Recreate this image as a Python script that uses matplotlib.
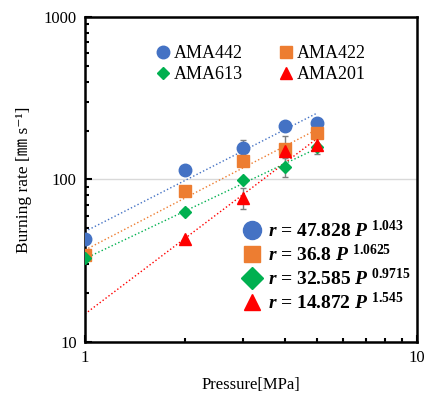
import numpy as np
import matplotlib
matplotlib.use('Agg')
import matplotlib.pyplot as plt
from matplotlib.ticker import FuncFormatter, LogLocator, NullFormatter

plt.rcParams['font.family'] = ['Liberation Serif', 'DejaVu Serif', 'Noto Sans CJK JP']
plt.rcParams['mathtext.fontset'] = 'custom'
plt.rcParams['mathtext.rm'] = 'Liberation Serif:bold'
plt.rcParams['mathtext.it'] = 'Liberation Serif:italic:bold'

# data
pressure = [1, 2, 3, 4, 5]
names = ['AMA442', 'AMA422', 'AMA613', 'AMA201']
rates = {
    'AMA442': [43, 115, 156, 213, 224],
    'AMA422': [34.3, 85, 129, 154, 192],
    'AMA613': [33, 63, 99, 120, 159],
    'AMA201': [np.nan, 43, 77, 150, 162],
}
errors = {
    'AMA442': [0, 0, 20, 0, 0],
    'AMA422': [0, 0, 0, 30, 0],
    'AMA613': [0, 0, 0, 16, 0],
    'AMA201': [0, 0, 11, 0, 18],
}
fit_a = [47.828, 36.8, 32.585, 14.872]
fit_b = [1.043, 1.0625, 0.9715, 1.545]
fit_labels = ['47.828', '36.8', '32.585', '14.872']
exp_labels = ['1.043', '1.0625', '0.9715', '1.545']

colors = ['#4472C4', '#ED7D31', '#00B050', '#FF0000']
markers = ['o', 's', 'D', '^']
sizes = [9, 8.5, 6.5, 9]

fig = plt.figure(figsize=(4.27, 3.94), dpi=100)
ax = fig.add_axes([0.199, 0.132, 0.778, 0.825])

handles = []
for i, nm in enumerate(names):
    p = np.array(pressure, dtype=float)
    r = np.array(rates[nm], dtype=float)
    e = np.array(errors[nm], dtype=float)
    m = e > 0
    ax.errorbar(p[m], r[m], yerr=e[m], fmt='none', ecolor='#7f7f7f',
                elinewidth=1, capsize=2, zorder=2)
    h, = ax.plot(p, r, linestyle='none', marker=markers[i], color=colors[i],
                 markersize=sizes[i], zorder=3)
    handles.append(h)
    pp = np.array([pressure[0], pressure[-1]], dtype=float)
    ax.plot(pp, fit_a[i] * pp ** fit_b[i], linestyle=':', color=colors[i],
            linewidth=1, zorder=2)

ax.set_xscale('log')
ax.set_yscale('log')
ax.set_xlim(1, 10)
ax.set_ylim(10, 1000)

fmt = FuncFormatter(lambda v, pos: '%g' % v)
ax.xaxis.set_major_formatter(fmt)
ax.yaxis.set_major_formatter(fmt)
ax.xaxis.set_minor_formatter(NullFormatter())
ax.yaxis.set_minor_formatter(NullFormatter())
ax.yaxis.set_minor_locator(LogLocator(base=10, subs=np.arange(2, 10)))
ax.xaxis.set_minor_locator(LogLocator(base=10, subs=np.arange(2, 10)))

ax.tick_params(which='both', direction='in', labelsize=12, width=1.5, colors='black')
ax.tick_params(which='major', length=5, pad=6)
ax.tick_params(which='minor', length=3)
for s in ax.spines.values():
    s.set_linewidth(1.8)

ax.yaxis.grid(True, which='major', color='#d9d9d9', linewidth=1)
ax.set_axisbelow(True)

ax.set_xlabel('Pressure[MPa]', fontsize=12, labelpad=8)
ax.set_ylabel('Burning rate [㎜ s⁻¹]', fontsize=12.5, labelpad=8)

# legend fills column by column, so reorder to get rows 442/422 and 613/201
order = [0, 2, 1, 3]
leg1 = ax.legend([handles[k] for k in order], [names[k] for k in order], ncol=2,
                 loc='upper left', bbox_to_anchor=(0.19, 0.935),
                 frameon=False, fontsize=13, handlelength=0.8, handletextpad=0.2,
                 columnspacing=2.0, labelspacing=0.2, borderaxespad=0)
ax.add_artist(leg1)

big = []
for i in range(4):
    h, = ax.plot([], [], linestyle='none', marker=markers[i], color=colors[i],
                 markersize=[13, 12, 11, 12][i])
    big.append(h)
labels = [r'$r$ = %s $P^{\ %s}$' % (fit_labels[i], exp_labels[i]) for i in range(4)]
leg2 = ax.legend(big, labels, loc='upper left', bbox_to_anchor=(0.45, 0.40),
                 frameon=False, handlelength=1.0, handletextpad=0.3,
                 labelspacing=0.15, borderaxespad=0, prop={'weight': 'bold', 'size': 14})

fig.savefig('out.png', dpi=100)
